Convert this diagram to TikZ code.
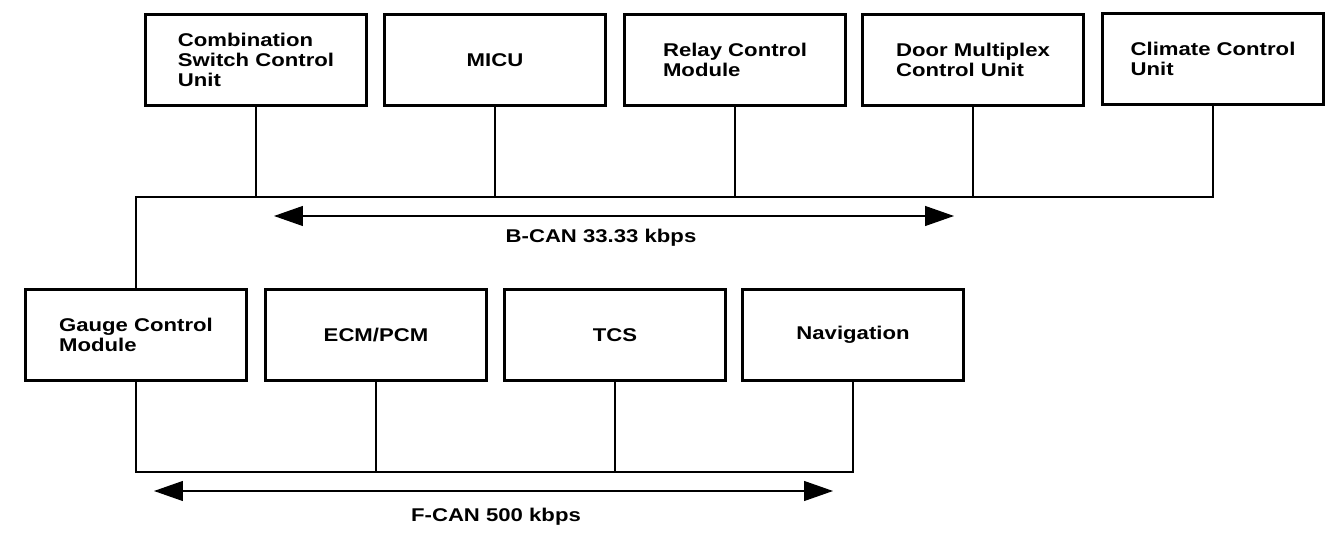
\documentclass[tikz,border=0pt]{standalone}
\usepackage{fontspec}
\setmainfont{Liberation Sans}[FakeStretch=1.2]
\usetikzlibrary{arrows.meta, positioning, calc}

\begin{document}
\begin{tikzpicture}[
  x=0.02cm, y=-0.02cm,
    box/.style={
        draw,
        line width=1.4pt,
        align=left,
        font=\fontsize{10.5}{11.4}\selectfont\bfseries,
        minimum width=4.42cm,
        minimum height=1.82cm,
        inner sep=0pt
    },
    wire/.style={
        line width=0.85pt
    },
    arrow/.style={
        {Triangle[length=0.58cm,width=0.4cm]}-{Triangle[length=0.58cm,width=0.4cm]},
        line width=0.7pt
    },
    busname/.style={
        font=\fontsize{10.5}{11.4}\selectfont\bfseries
    }
]

\useasboundingbox (0,0) rectangle (1344,546);

% B-CAN units
\node[box] (combo) at (256,60)
{Combination\\Switch Control\\Unit};
\node[box] (micu) at (495,60) {MICU};
\node[box] (relay) at (735,60)
{Relay Control\\Module};
\node[box] (door) at (973,60)
{Door Multiplex\\Control Unit};
\node[box] (climate) at (1213,59)
{Climate Control\\Unit};

% F-CAN units
\node[box] (gauge) at (136,335)
{Gauge Control\\Module};
\node[box] (ecm) at (376,335) {ECM/PCM};
\node[box] (tcs) at (615,335) {TCS};
\node[box] (nav) at (853,335) {Navigation};

% bus lines
\coordinate (bbus) at (0,197);
\coordinate (fbus) at (0,472);

\draw[wire] (gauge.north) |- (bbus -| climate.south) -- (climate.south);
\foreach \n in {combo,micu,relay,door}
  \draw[wire] (\n.south) -- (\n.south |- bbus);

\draw[wire] (gauge.south) |- (fbus -| nav.south) -- (nav.south);
\foreach \n in {ecm,tcs}
  \draw[wire] (\n.south) -- (\n.south |- fbus);

% speed arrows
\coordinate (bcanL) at (274,216);
\coordinate (bcanR) at (954,216);
\draw[arrow] (bcanL) -- (bcanR);
\node[busname] (bcan) at (601,238) {B-CAN 33.33 kbps};

\coordinate (fcanL) at (154,491);
\coordinate (fcanR) at (833,491);
\draw[arrow] (fcanL) -- (fcanR);
\node[busname] (fcan) at (496,517) {F-CAN 500 kbps};

\end{tikzpicture}
\end{document}
